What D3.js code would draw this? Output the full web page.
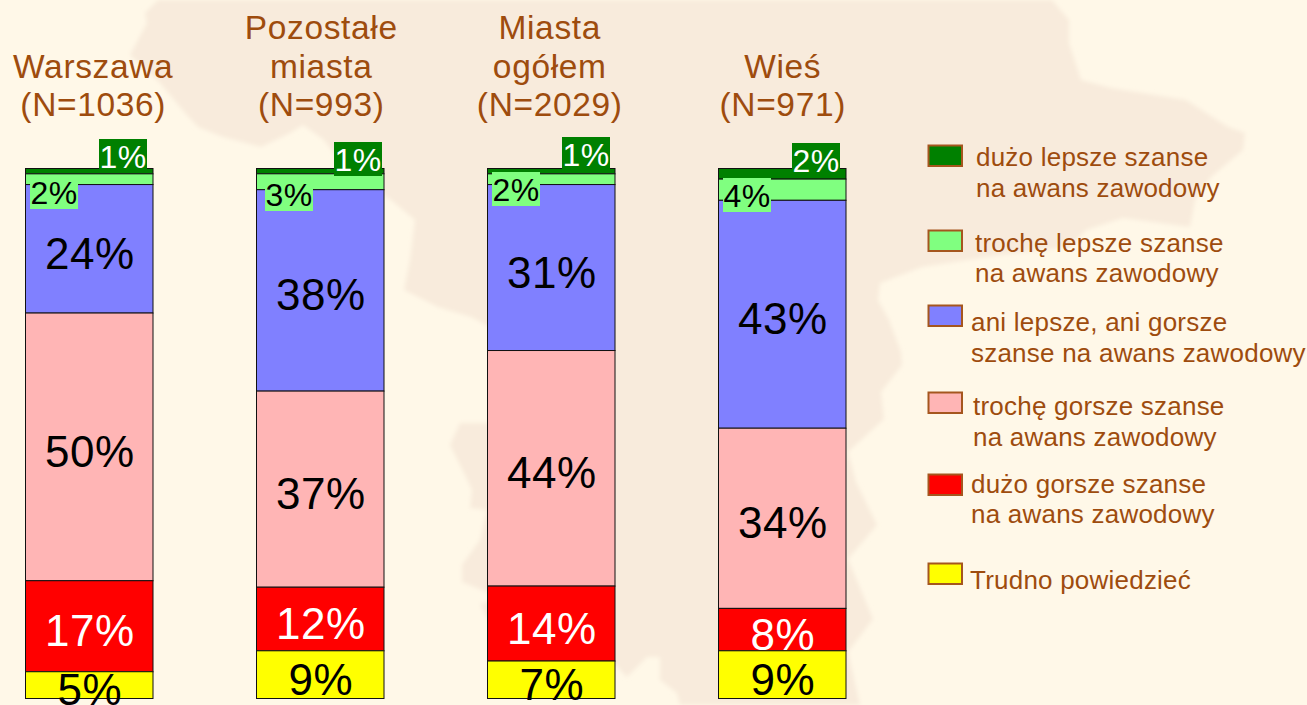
<!DOCTYPE html>
<html lang="pl">
<head>
<meta charset="utf-8">
<title>Szanse na awans zawodowy</title>
<script src="https://cdn.jsdelivr.net/npm/d3@7/dist/d3.min.js"></script>
<style>
html,body{margin:0;padding:0;background:#FFF8E8;overflow:hidden}
svg{display:block}
text{font-family:"Liberation Sans",Arial,sans-serif}
</style>
</head>
<body>
<svg id="chart" width="1307" height="705"></svg>
<script>
// ---------- data ----------
const categories = ["Warszawa", "Pozostałe miasta", "Miasta ogółem", "Wieś"];
const sampleSizes = [1036, 993, 2029, 971];
const seriesNames = ["duzoLepsze", "trocheLepsze", "ani", "trocheGorsze", "duzoGorsze", "trudno"];
const duzoLepsze   = [1, 1, 1, 2];
const trocheLepsze = [2, 3, 2, 4];
const ani          = [24, 38, 31, 43];
const trocheGorsze = [50, 37, 44, 34];
const duzoGorsze   = [17, 12, 14, 8];
const trudno       = [5, 9, 7, 9];
const legendLabels = [
  ["dużo lepsze szanse", "na awans zawodowy"],
  ["trochę lepsze szanse", "na awans zawodowy"],
  ["ani lepsze, ani gorsze", "szanse na awans zawodowy"],
  ["trochę gorsze szanse", "na awans zawodowy"],
  ["dużo gorsze szanse", "na awans zawodowy"],
  ["Trudno powiedzieć"]
];

// ---------- styles and layout ----------
const colors = ["#008000", "#80FF80", "#8080FF", "#FFB5B5", "#FF0000", "#FFFF00"];
const labelColors = ["#fff", "#000", "#000", "#000", "#fff", "#000"];
const brown = "#9E4C0E";

const table = categories.map((c, i) => ({
  category: c,
  duzoLepsze: duzoLepsze[i], trocheLepsze: trocheLepsze[i], ani: ani[i],
  trocheGorsze: trocheGorsze[i], duzoGorsze: duzoGorsze[i], trudno: trudno[i]
}));

const x = d3.scaleBand().domain(categories).range([25.5, 846])
  .paddingInner(103.5 / 231).paddingOuter(0);
const y = d3.scaleLinear().domain([0, 1]).range([168.5, 698.5]);
const stacked = d3.stack().keys(seriesNames).offset(d3.stackOffsetExpand)(table);

const svg = d3.select("#chart");

// ---------- background map silhouette ----------
const mapOutline = [[158,0],[145,13],[147,23],[130,55],[160,83],[185,113],[198,127],[223,137],[261,147],[290,133],[303,125],[324,140],[349,173],[391,200],[415,220],[410,260],[404,290],[438,307],[471,317],[490,327],[495,423],[460,423],[450,445],[465,475],[472,490],[470,508],[487,510],[480,540],[462,565],[462,582],[487,592],[495,600],[480,604],[484,612],[500,640],[615,664],[620,670],[627,677],[647,657],[660,657],[660,680],[677,693],[680,705],[860,705],[848,652],[873,619],[848,559],[877,525],[856,482],[848,452],[884,419],[881,392],[902,365],[901,352],[889,320],[878,300],[880,283],[922,267],[1000,255],[1069,247],[1086,230],[1123,218],[1190,227],[1195,200],[1211,177],[1243,150],[1245,133],[1228,127],[1186,100],[1111,88],[1081,80],[1069,43],[1069,20],[1052,0]];
const defs = svg.append("defs");
defs.append("filter").attr("id", "soft")
  .attr("x", "-5%").attr("y", "-5%").attr("width", "110%").attr("height", "110%")
  .append("feGaussianBlur").attr("stdDeviation", 2);
svg.append("path").attr("d", d3.line()(mapOutline) + "Z").attr("fill", "#F8EBDC").attr("filter", "url(#soft)");

// ---------- stacked bars ----------
const groups = svg.selectAll("g.series").data(stacked).join("g").attr("class", "series");
groups.selectAll("rect").data(s => s.map(d => ({d, key: s.key, index: s.index})))
  .join("rect")
  .attr("x", p => x(p.d.data.category))
  .attr("width", x.bandwidth())
  .attr("y", p => y(p.d[0]))
  .attr("height", p => y(p.d[1]) - y(p.d[0]))
  .attr("fill", p => colors[p.index])
  .attr("stroke", "#111")
  .attr("stroke-width", 1);

// ---------- category titles ----------
const titleLines = categories.map((c, i) => {
  const parts = c.split(" ");
  return [...parts, `(N=${sampleSizes[i]})`];
});
const titleNudge = [4, 1, -1.5, 0.5];
svg.selectAll("text.title").data(categories).join("text")
  .attr("class", "title")
  .attr("text-anchor", "middle")
  .attr("font-size", 33.5)
  .attr("letter-spacing", 0.65)
  .attr("fill", brown)
  .each(function (c, i) {
    const lines = titleLines[i];
    const cx = x(c) + x.bandwidth() / 2 + titleNudge[i];
    d3.select(this).selectAll("tspan").data(lines).join("tspan")
      .attr("x", cx)
      .attr("y", (l, k) => 116 - (lines.length - 1 - k) * 38.5)
      .text(l => l);
  });

// ---------- value labels ----------
// hand placement of the small top labels, which sit on coloured boxes outside their segments
const boxW = 48, boxH = 34;
const topBoxLeft = [[74, 78, 75, 74], [5, 9, 5, 5]];
const topBoxTop = [[139, 142, 137, 143], [175, 177, 172, 178]];

stacked.forEach((s, si) => {
  s.forEach((d, ci) => {
    const cat = d.data.category;
    const val = d.data[s.key];
    if (si < 2) {
      const bx = x(cat) + topBoxLeft[si][ci] - 0.5;
      const by = topBoxTop[si][ci];
      svg.append("rect").attr("x", bx).attr("y", by).attr("width", boxW).attr("height", boxH).attr("fill", colors[si]);
      svg.append("text").attr("x", bx + boxW / 2).attr("y", by + 28.5)
        .attr("text-anchor", "middle").attr("font-size", 32).attr("letter-spacing", 0.4)
        .attr("fill", labelColors[si]).text(val + "%");
    } else {
      svg.append("text").attr("x", x(cat) + x.bandwidth() / 2 + 0.5)
        .attr("y", (y(d[0]) + y(d[1])) / 2 + 20)
        .attr("text-anchor", "middle").attr("font-size", 44).attr("letter-spacing", 0.5)
        .attr("fill", labelColors[si]).text(val + "%");
    }
  });
});

// ---------- legend ----------
const swatchTop = [145, 230, 305, 392, 474, 563];
const legendTextX = [976, 975, 971, 973, 971, 970];
const legendBase = [[166, 196.5], [252, 282], [331, 361.5], [415, 446], [493, 523], [589]];
legendLabels.forEach((lines, i) => {
  svg.append("rect").attr("x", 928.5).attr("y", swatchTop[i] + 0.5).attr("width", 33.5).attr("height", 20.5)
    .attr("fill", colors[i]).attr("stroke", "#A5561E").attr("stroke-width", 2);
  lines.forEach((l, k) => {
    svg.append("text").attr("x", legendTextX[i]).attr("y", legendBase[i][k])
      .attr("font-size", 26).attr("letter-spacing", 0.22).attr("fill", brown).text(l);
  });
});
</script>
</body>
</html>
